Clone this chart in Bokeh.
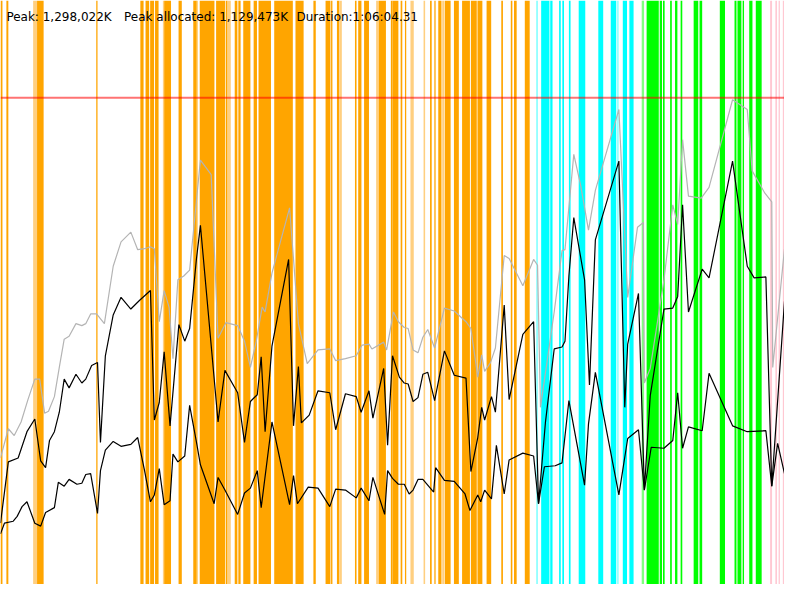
from bokeh.core.properties import value
from bokeh.embed import file_html
from bokeh.models import ColumnDataSource, Range1d, Span
from bokeh.plotting import figure
from bokeh.resources import INLINE

# header texts
peak_text = "Peak: 1,298,022K"
alloc_text = "Peak allocated: 1,129,473K"
duration_text = "Duration:1:06:04.31"

# chart is laid out on an 800 x 600 grid (y grows downwards, like the original)
peak_level = 100

# GC event bands: left edge, right edge, kind
band_left = [0, 6, 33.3, 37.3, 97.7, 142.7, 148, 152.7, 157.7, 165.7, 167, 181.7, 196.7, 200,
             203.3, 220, 230, 231.7, 239, 242.7, 247.7, 258.3, 263.3, 279.3, 301, 319.3,
             331.7, 337.3, 343.3, 345.7, 361.7, 365, 371, 383.3, 386, 398.3,
             400, 408.3, 412.7, 418.3, 431.7, 438.3, 442.7, 446.7, 450.7, 453.3, 462.7,
             471, 480, 486.7, 496, 511, 520.7, 524, 535,
             546.7, 551.7, 560, 561, 570, 573.3, 580, 590, 610, 622.7, 629.3, 635, 641.7,
             654.3, 659.3, 672.7, 676, 683.3, 688.3, 694, 707.3, 713.3, 734, 749, 752,
             757.3, 764, 770.7,
             785.3, 790.7, 794, 798.3]
band_right = [2, 8, 37.3, 44, 99, 146, 151.7, 156.7, 161.3, 167, 174, 185, 200, 201,
              218.3, 229.3, 231.7, 235, 241.7, 245, 255, 261.7, 276, 298.3, 309.3, 321.7,
              336.7, 338.7, 345.7, 348.3, 363.3, 368.3, 376, 386, 393.3, 400,
              406, 410, 414, 421.7, 433.3, 440, 444, 450, 452.7, 459.3, 467.7,
              479, 486, 491.7, 500.7, 512.7, 522.3, 526.7, 540,
              548.3, 560, 561, 563.3, 571.7, 575, 581.7, 596.7, 615, 628.3, 630.7, 639.3, 646,
              656.7, 671.7, 675, 677.7, 685, 690.7, 695.7, 712, 716, 739.3, 751, 756,
              758.7, 767.3, 776.7,
              787.3, 792.3, 795.3, 800]
band_kind = ["o", "o", "ol", "o", "o", "o", "o", "o", "o", "ol", "o", "o", "o", "o",
             "o", "o", "o", "ol", "o", "o", "o", "o", "o", "o", "o", "o",
             "o", "o", "o", "ol", "o", "o", "o", "ol", "o", "o",
             "o", "o", "o", "ol", "ol", "o", "o", "o", "ol", "o", "o",
             "o", "o", "o", "o", "o", "o", "o", "o",
             "cl", "c", "cl", "c", "c", "c", "c", "c", "c", "c", "cl", "c", "c",
             "gl", "g", "g", "g", "g", "g", "g", "g", "g", "g", "g", "g",
             "g", "g", "g",
             "p", "p", "p", "p"]

kind_colors = {"o": "#FFA500", "ol": "#FFCF80", "c": "#00FFFF", "cl": "#80FFFF",
               "g": "#00FF00", "gl": "#80FF80", "p": "#FFC8D2"}

# heap size (grey)
heap_x = [0, 8, 14, 21, 28, 35, 40, 45, 49, 55, 60, 65, 70, 77, 83, 87, 92, 98, 106, 115,
          123, 133, 140, 147, 153, 157, 162, 167, 172, 176, 181, 187, 193, 200, 204, 215,
          222, 230, 242, 249, 255, 261, 267, 270, 277, 295, 304, 313, 324, 336, 342, 352,
          363, 369, 376, 379, 391, 394, 401, 406, 412, 416, 421, 426, 431, 436, 443, 453,
          463, 475, 480, 487, 491, 494, 500, 505, 514, 519, 533, 544, 548, 551, 565, 573,
          576, 585, 592, 600, 607, 631, 640, 650, 656, 657, 663, 677, 686, 691, 696, 702,
          715, 723, 747, 762, 767, 780, 787, 788, 800]
heap_y = [470, 440, 447, 433, 410, 389, 389, 424, 422, 407, 377, 348, 345, 332, 334, 332,
          322, 322, 332, 273, 248, 238, 256, 255, 253, 255, 330, 298, 315, 368, 287, 283,
          277, 205, 164, 179, 347, 331, 334, 350, 377, 350, 315, 320, 280, 213, 332, 373,
          359, 358, 370, 368, 365, 354, 353, 358, 351, 359, 320, 330, 336, 337, 359, 362,
          346, 338, 357, 316, 319, 330, 337, 387, 364, 381, 372, 357, 262, 265, 293, 266,
          272, 418, 320, 257, 256, 158, 190, 236, 195, 112, 305, 233, 228, 393, 378, 287,
          210, 230, 143, 201, 203, 192, 102, 112, 175, 198, 207, 377, 255]

# used after GC (black, upper)
used_x = [0, 8, 18, 27, 35, 41, 46, 50, 55, 60, 65, 70, 77, 83, 87, 93, 99, 102, 107, 115,
          123, 133, 142, 153, 157, 162, 167, 173, 182, 188, 193, 200, 204, 222, 229, 242,
          249, 255, 262, 266, 270, 277, 294, 299, 304, 307, 315, 324, 336, 342, 352, 363,
          368, 376, 380, 391, 395, 400, 407, 412, 416, 421, 426, 431, 436, 443, 453, 463,
          475, 480, 487, 491, 494, 501, 505, 514, 519, 533, 544, 549, 556, 565, 573, 576,
          580, 585, 596, 601, 607, 631, 637, 640, 651, 657, 663, 677, 686, 691, 696, 702,
          716, 723, 747, 762, 769, 781, 787, 800]
used_y = [537, 474, 470, 443, 430, 473, 480, 452, 443, 423, 389, 398, 384, 393, 389, 375,
          372, 454, 365, 323, 305, 317, 308, 298, 431, 413, 361, 437, 333, 350, 337, 265,
          231, 433, 380, 403, 454, 412, 405, 366, 443, 355, 266, 437, 376, 434, 426, 401,
          403, 441, 404, 407, 423, 401, 429, 378, 457, 365, 387, 393, 394, 412, 408, 384,
          382, 411, 360, 385, 388, 484, 449, 418, 431, 407, 423, 313, 410, 343, 330, 517,
          434, 358, 356, 350, 283, 223, 287, 395, 246, 165, 418, 353, 301, 503, 406, 317,
          316, 304, 210, 320, 276, 285, 165, 273, 285, 284, 499, 309]

# live data (black, lower)
live_x = [0, 4, 13, 17, 22, 27, 35, 41, 46, 55, 59, 65, 70, 78, 83, 87, 92, 99, 102, 107,
          115, 123, 133, 140, 147, 153, 157, 162, 167, 173, 176, 181, 188, 193, 200, 204,
          218, 222, 229, 242, 249, 255, 262, 266, 277, 295, 299, 303, 314, 324, 336, 342,
          352, 363, 368, 376, 380, 392, 395, 400, 406, 412, 417, 421, 426, 431, 442, 444,
          453, 463, 474, 479, 487, 490, 494, 501, 506, 514, 519, 533, 544, 549, 555, 566,
          573, 580, 596, 600, 607, 631, 640, 651, 657, 664, 677, 686, 691, 696, 702, 716,
          723, 747, 762, 781, 787, 793, 800]
live_y = [548, 537, 535, 530, 520, 515, 537, 540, 526, 521, 495, 499, 492, 497, 496, 487,
          486, 527, 483, 462, 453, 458, 456, 449, 483, 515, 508, 481, 518, 514, 466, 474,
          468, 416, 454, 477, 517, 490, 503, 528, 506, 501, 483, 521, 433, 518, 488, 517,
          500, 501, 520, 502, 503, 511, 501, 514, 490, 528, 483, 491, 497, 497, 507, 503,
          492, 492, 505, 480, 493, 494, 507, 524, 508, 515, 503, 512, 457, 507, 472, 465,
          468, 517, 479, 478, 475, 411, 498, 435, 382, 508, 450, 441, 503, 459, 460, 452,
          403, 460, 438, 442, 383, 437, 443, 442, 499, 455, 486]

p = figure(width=784, height=584, output_backend="svg", toolbar_location=None,
           x_range=Range1d(0, 800), y_range=Range1d(600, 0),
           min_border=0, outline_line_color=None, background_fill_color="white")
p.axis.visible = False
p.grid.visible = False

bands = ColumnDataSource(dict(left=band_left, right=band_right,
                              color=[kind_colors[k] for k in band_kind]))
p.quad(left="left", right="right", top=0, bottom=600, source=bands,
       fill_color="color", line_color=None)

p.add_layout(Span(location=peak_level, dimension="width", line_color="#FF0000",
                  line_alpha=0.55, line_width=2))

p.line(heap_x, heap_y, line_color="#B4B4B4", line_width=1.2)
p.line(used_x, used_y, line_color="black", line_width=1.2)
p.line(live_x, live_y, line_color="black", line_width=1.2)

for label, x0 in [(peak_text, 6), (alloc_text, 126), (duration_text, 302)]:
    p.text(x=[x0], y=[17], text=[label], text_font=value("DejaVu Sans"),
           text_font_size="12px", text_color="black", text_baseline="alphabetic")

open("out.html", "w").write(file_html(p, INLINE))
